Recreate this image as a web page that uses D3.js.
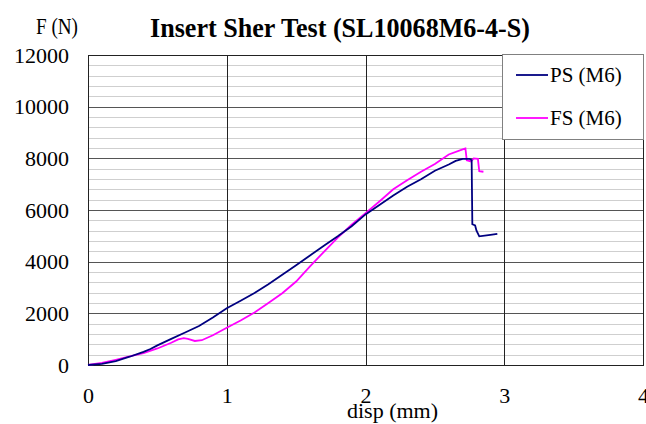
<!DOCTYPE html>
<html>
<head>
<meta charset="utf-8">
<script src="https://cdn.jsdelivr.net/npm/d3@7"></script>
<style>
  html, body { margin: 0; padding: 0; background: #fff; }
  svg { display: block; }
  text { font-family: "Liberation Serif", "Times New Roman", serif; fill: #000; }
</style>
</head>
<body>
<svg id="chart" width="646" height="424"></svg>
<script>
// ---- data ----
const psDisp = [0, 0.1, 0.2, 0.3, 0.4, 0.45, 0.5, 0.6, 0.7, 0.8, 0.9, 1.0, 1.1, 1.2, 1.3, 1.4, 1.5, 1.6, 1.7, 1.8, 1.9, 2.0, 2.1, 2.2, 2.3, 2.4, 2.5, 2.6, 2.65, 2.7, 2.75, 2.765, 2.77, 2.79, 2.8, 2.82, 2.9, 2.95];
const psForce = [0, 40, 150, 320, 510, 620, 760, 1010, 1260, 1510, 1840, 2200, 2490, 2790, 3130, 3490, 3860, 4240, 4620, 4980, 5370, 5830, 6190, 6560, 6900, 7190, 7520, 7760, 7900, 7980, 7980, 7930, 5450, 5400, 5200, 4980, 5040, 5080];
const fsDisp = [0, 0.1, 0.2, 0.3, 0.4, 0.5, 0.6, 0.65, 0.69, 0.72, 0.77, 0.82, 0.9, 1.0, 1.1, 1.2, 1.3, 1.4, 1.5, 1.6, 1.7, 1.8, 1.9, 2.0, 2.1, 2.2, 2.3, 2.4, 2.5, 2.6, 2.7, 2.72, 2.73, 2.76, 2.78, 2.81, 2.82, 2.85];
const fsForce = [0, 80, 200, 330, 460, 640, 860, 990, 1040, 1010, 930, 960, 1150, 1440, 1720, 2030, 2400, 2780, 3230, 3820, 4380, 4930, 5430, 5880, 6330, 6800, 7150, 7480, 7780, 8150, 8350, 8380, 7920, 7880, 8000, 7980, 7500, 7480];
const seriesNames = ["PS (M6)", "FS (M6)"];
const seriesColors = ["#000080", "#ff00ff"];
const xTicks = [0, 1, 2, 3, 4];
const yTicks = [0, 2000, 4000, 6000, 8000, 10000, 12000];
const yMinorStep = 400;
const titleText = "Insert Sher Test (SL10068M6-4-S)";
const yLabelText = "F (N)";
const xLabelText = "disp (mm)";

// ---- layout ----
const svg = d3.select("#chart");
const L = 88, R = 643, T = 55, B = 365;
const x = d3.scaleLinear().domain([0, 4]).range([L, R]);
const y = d3.scaleLinear().domain([0, 12000]).range([B, T]);

// minor horizontal grid
const minor = d3.range(0, 12000 + 1, yMinorStep).filter(v => v % 2000 !== 0);
svg.append("g").selectAll("line").data(minor).join("line")
  .attr("x1", L).attr("x2", R)
  .attr("y1", d => Math.round(y(d)) + 0.5).attr("y2", d => Math.round(y(d)) + 0.5)
  .attr("stroke", "#cfcfcf").attr("stroke-width", 1);

// major horizontal grid
svg.append("g").selectAll("line").data(yTicks).join("line")
  .attr("x1", L).attr("x2", R)
  .attr("y1", d => Math.round(y(d)) + 0.5).attr("y2", d => Math.round(y(d)) + 0.5)
  .attr("stroke", "#555").attr("stroke-width", 1);

// vertical grid
svg.append("g").selectAll("line").data(xTicks).join("line")
  .attr("y1", T).attr("y2", B)
  .attr("x1", d => Math.round(x(d)) + 0.5).attr("x2", d => Math.round(x(d)) + 0.5)
  .attr("stroke", "#222").attr("stroke-width", 1);

// frame
svg.append("rect").attr("x", L + 0.5).attr("y", Math.round(T) + 0.5)
  .attr("width", R - L).attr("height", B - T)
  .attr("fill", "none").attr("stroke", "#222");

// axes labels
const yAxis = d3.axisLeft(y).tickValues(yTicks).tickSize(0).tickPadding(19).tickFormat(d3.format("d"));
const gy = svg.append("g").attr("transform", `translate(${L},0)`).call(yAxis);
gy.select(".domain").remove();
gy.selectAll("text").style("font-family", "'Liberation Serif', serif").style("font-size", "22px").attr("fill", "#000");

const xAxis = d3.axisBottom(x).tickValues(xTicks).tickSize(0).tickPadding(22).tickFormat(d3.format("d"));
const gx = svg.append("g").attr("transform", `translate(0,${B})`).call(xAxis);
gx.select(".domain").remove();
gx.selectAll("text").style("font-family", "'Liberation Serif', serif").style("font-size", "22px").attr("fill", "#000");

// lines
const line = d3.line().x(d => x(d[0])).y(d => y(d[1]));
const psData = psDisp.map((d, i) => [d, psForce[i]]);
const fsData = fsDisp.map((d, i) => [d, fsForce[i]]);
svg.append("path").datum(fsData).attr("d", line)
  .attr("fill", "none").attr("stroke", seriesColors[1]).attr("stroke-width", 1.8);
svg.append("path").datum(psData).attr("d", line)
  .attr("fill", "none").attr("stroke", seriesColors[0]).attr("stroke-width", 1.8);

// legend
const lg = svg.append("g");
lg.append("rect").attr("x", 502.5).attr("y", 54.5).attr("width", 141).attr("height", 85)
  .attr("fill", "#fff").attr("stroke", "#808080");
seriesNames.forEach((name, i) => {
  const yy = 75 + i * 43;
  lg.append("line").attr("x1", 516).attr("x2", 548).attr("y1", yy).attr("y2", yy)
    .attr("stroke", seriesColors[i]).attr("stroke-width", 1.8);
  lg.append("text").attr("x", 550).attr("y", yy + 7).style("font-size", "21px").text(name);
});

// titles
svg.append("text").attr("x", 340).attr("y", 37).attr("text-anchor", "middle")
  .style("font-size", "28px").style("font-weight", "bold")
  .attr("textLength", 380).attr("lengthAdjust", "spacingAndGlyphs").text(titleText);
svg.append("text").attr("x", 36).attr("y", 34)
  .style("font-size", "23px")
  .attr("textLength", 42).attr("lengthAdjust", "spacingAndGlyphs").text(yLabelText);
svg.append("text").attr("x", 347).attr("y", 418)
  .style("font-size", "22px").text(xLabelText);
</script>
</body>
</html>
